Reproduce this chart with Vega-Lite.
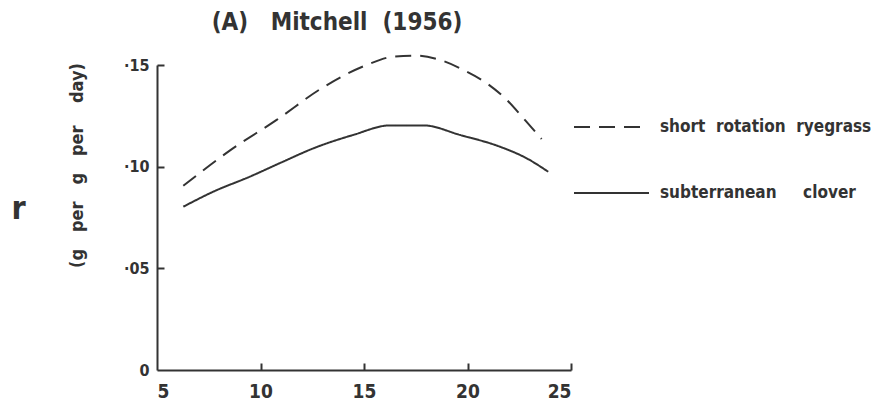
{
  "$schema": "https://vega.github.io/schema/vega-lite/v6.json",
  "width": 414,
  "height": 305,
  "autosize": {"type": "none"},
  "padding": {"left": 157, "top": 65, "right": 311, "bottom": 38},
  "background": "white",
  "title": {
    "text": "(A)\u00a0\u00a0 Mitchell\u00a0 (1956)",
    "anchor": "middle",
    "dx": -27,
    "offset": 17,
    "font": "DejaVu Sans Condensed",
    "fontSize": 24,
    "fontWeight": "bold",
    "color": "#333333"
  },
  "config": {
    "view": {"stroke": null},
    "font": "DejaVu Sans Condensed",
    "axis": {
      "grid": false,
      "domainColor": "#333333",
      "domainWidth": 2,
      "tickColor": "#333333",
      "tickWidth": 2,
      "tickSize": 7,
      "labelFont": "DejaVu Sans Condensed",
      "labelFontWeight": "bold",
      "labelColor": "#333333",
      "titleFont": "DejaVu Sans Condensed",
      "titleFontWeight": "bold",
      "titleColor": "#333333"
    }
  },
  "data": {
    "values": [
      {"series": "short rotation ryegrass", "temp": 6.27, "r": 0.0906},
      {"series": "short rotation ryegrass", "temp": 8.53, "r": 0.108},
      {"series": "short rotation ryegrass", "temp": 10.78, "r": 0.123},
      {"series": "short rotation ryegrass", "temp": 12.96, "r": 0.1386},
      {"series": "short rotation ryegrass", "temp": 15.13, "r": 0.150},
      {"series": "short rotation ryegrass", "temp": 16.42, "r": 0.1541},
      {"series": "short rotation ryegrass", "temp": 17.55, "r": 0.1546},
      {"series": "short rotation ryegrass", "temp": 18.67, "r": 0.1525},
      {"series": "short rotation ryegrass", "temp": 19.8, "r": 0.1476},
      {"series": "short rotation ryegrass", "temp": 20.93, "r": 0.141},
      {"series": "short rotation ryegrass", "temp": 21.9, "r": 0.1328},
      {"series": "short rotation ryegrass", "temp": 22.7, "r": 0.1238},
      {"series": "short rotation ryegrass", "temp": 23.58, "r": 0.1136},
      {"series": "subterranean clover", "temp": 6.27, "r": 0.0803},
      {"series": "subterranean clover", "temp": 7.72, "r": 0.0877},
      {"series": "subterranean clover", "temp": 9.49, "r": 0.0951},
      {"series": "subterranean clover", "temp": 11.1, "r": 0.1025},
      {"series": "subterranean clover", "temp": 12.55, "r": 0.109},
      {"series": "subterranean clover", "temp": 14.48, "r": 0.1156},
      {"series": "subterranean clover", "temp": 16.26, "r": 0.1203},
      {"series": "subterranean clover", "temp": 17.87, "r": 0.1203},
      {"series": "subterranean clover", "temp": 19.64, "r": 0.1156},
      {"series": "subterranean clover", "temp": 21.57, "r": 0.1098},
      {"series": "subterranean clover", "temp": 22.86, "r": 0.1041},
      {"series": "subterranean clover", "temp": 23.9, "r": 0.0975}
    ]
  },
  "layer": [
    {
      "mark": {"type": "line", "interpolate": "monotone", "strokeWidth": 2, "color": "#333333"},
      "encoding": {
        "x": {
          "field": "temp",
          "type": "quantitative",
          "scale": {"domain": [5, 25], "nice": false, "zero": false},
          "axis": {
            "orient": "bottom",
            "values": [5, 10, 15, 20, 25],
            "title": null,
            "ticks": false,
            "labelFontSize": 19,
            "labelPadding": 12
          }
        },
        "y": {
          "field": "r",
          "type": "quantitative",
          "scale": {"domain": [0, 0.15], "nice": false},
          "axis": {
            "orient": "left",
            "values": [0, 0.05, 0.1, 0.15],
            "labelExpr": "datum.value === 0 ? '0' : '\u00b7' + format(round(datum.value * 100), '02d')",
            "ticks": false,
            "labelFontSize": 16,
            "labelPadding": 8,
            "title": "(g\u00a0\u00a0 per\u00a0\u00a0 g\u00a0\u00a0 per\u00a0\u00a0\u00a0 day)",
            "titleFontSize": 18,
            "titleAngle": -90,
            "titleX": -80,
            "titleY": 100,
            "titleAlign": "center",
            "titleBaseline": "middle"
          }
        },
        "strokeDash": {
          "field": "series",
          "type": "nominal",
          "scale": {
            "domain": ["short rotation ryegrass", "subterranean clover"],
            "range": [[16, 9], [1, 0]]
          },
          "legend": {
            "title": null,
            "orient": "none",
            "legendX": 416,
            "legendY": 54,
            "padding": 0,
            "symbolType": "stroke",
            "symbolSize": 5625,
            "symbolStrokeWidth": 2,
            "symbolStrokeColor": "#333333",
            "clipHeight": 16,
            "rowPadding": 49,
            "labelOffset": 10,
            "labelLimit": 0,
            "labelFont": "DejaVu Sans Condensed",
            "labelFontWeight": "bold",
            "labelFontSize": 17,
            "labelColor": "#333333",
            "labelExpr": "datum.label === 'subterranean clover' ? 'subterranean\u00a0\u00a0\u00a0\u00a0 clover' : 'short\u00a0 rotation\u00a0 ryegrass'"
          }
        }
      }
    },
    {
      "data": {"values": [{"temp": 5, "r": 0}]},
      "mark": {"type": "point", "opacity": 0},
      "encoding": {
        "x": {
          "field": "temp",
          "type": "quantitative",
          "axis": {
            "orient": "top",
            "offset": -305,
            "values": [10, 15, 20, 25],
            "labels": false,
            "domain": false,
            "ticks": true,
            "tickSize": 7,
            "title": null
          }
        },
        "y": {
          "field": "r",
          "type": "quantitative",
          "axis": {
            "orient": "right",
            "offset": -414,
            "values": [0.05, 0.1, 0.15],
            "labels": false,
            "domain": false,
            "ticks": true,
            "tickSize": 7,
            "title": "r",
            "titleFontSize": 32,
            "titleFontWeight": "bold",
            "titleAngle": 0,
            "titleX": -139,
            "titleY": 143,
            "titleAlign": "center",
            "titleBaseline": "middle"
          }
        }
      }
    }
  ],
  "resolve": {"axis": {"x": "independent", "y": "independent"}}
}
